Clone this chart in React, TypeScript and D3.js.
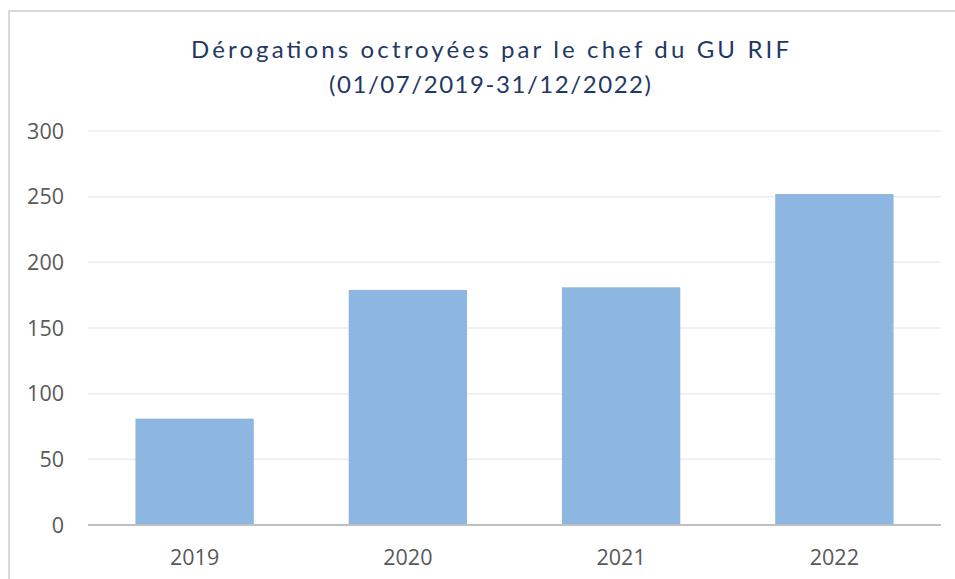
import React from "react";
import * as d3 from "d3";

const titleLines = ["Dérogations octroyées par le chef du GU RIF", "(01/07/2019-31/12/2022)"];
const titleWidths = [598, 322];
const categories = ["2019", "2020", "2021", "2022"];
const values = [81, 179, 181, 252];
const yTicks = [0, 50, 100, 150, 200, 250, 300];

const W = 955;
const H = 579;
const margin = { left: 88, right: 14, top: 131, bottom: 54 };

export default function App() {
  const x = d3
    .scaleBand<string>()
    .domain(categories)
    .range([margin.left, W - margin.right])
    .paddingInner(0.445)
    .paddingOuter(0.2225);
  const y = d3.scaleLinear().domain([0, 300]).range([H - margin.bottom, margin.top]);

  return (
    <svg
      width={W}
      height={H}
      style={{ position: "absolute", left: 0, top: 0, background: "#fff" }}
    >
      <rect x={9} y={11} width={W + 10} height={H + 10} fill="#fff" stroke="#d9d9d9" strokeWidth={2} />
      {titleLines.map((t, i) => (
        <text
          key={i}
          x={490}
          y={58 + i * 34.5}
          textAnchor="middle"
          fontSize={24}
          fill="#1f3864"
          fontFamily="Lato, sans-serif"
          textLength={titleWidths[i]}
          lengthAdjust="spacing"
        >
          {t}
        </text>
      ))}
      {yTicks.map((t) => (
        <g key={t}>
          {t > 0 && (
            <line x1={margin.left} x2={W - margin.right} y1={y(t)} y2={y(t)} stroke="#ececec" strokeWidth={1.5} />
          )}
          <text x={64} y={y(t)} dy="0.36em" textAnchor="end" fontSize={21.5} fill="#595959" fontFamily="'Open Sans', sans-serif">
            {t}
          </text>
        </g>
      ))}
      {categories.map((c, i) => (
        <g key={c}>
          <rect x={x(c)} y={y(values[i])} width={x.bandwidth()} height={y(0) - y(values[i])} fill="#8db7e1" />
          <text x={(x(c) as number) + x.bandwidth() / 2} y={565} textAnchor="middle" fontSize={21.5} fill="#595959" fontFamily="'Open Sans', sans-serif">
            {c}
          </text>
        </g>
      ))}
      <line x1={margin.left} x2={W - margin.right} y1={y(0)} y2={y(0)} stroke="#bfbfbf" strokeWidth={2} />
    </svg>
  );
}
